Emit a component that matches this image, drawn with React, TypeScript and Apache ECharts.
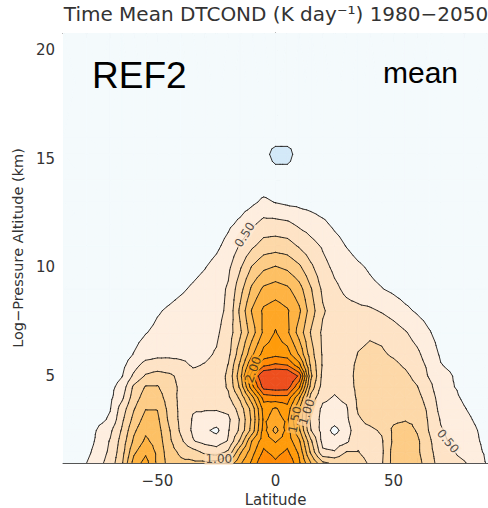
import React, { useEffect, useRef } from 'react';
import * as echarts from 'echarts';

const latitudes = [-90,-80,-70,-65,-60,-55,-50,-45,-40,-35,-30,-25,-20,-15,-10,-5,0,5,10,15,20,25,30,35,40,45,50,55,60,65,70,80,90];
const altitudes = [1,1.5,2,2.5,3,3.5,4,4.5,5,5.5,6,7,8,9,10,11,12,13,14,15.2,16,21];

const alt1_0 = [0.15,0.25,0.6,0.97,1.6,1.85,1.45,1.15,1.05,1.05,1.05,1.1,1.3,1.7,2.05,2.5,2.3,2.5,2.05,1.5,1.05,0.95,1.0,0.9,0.7,0.72,1.1,1.2,1.1,0.85,0.65,0.52,0.22];
const alt1_5 = [0.12,0.18,0.55,0.9,1.45,1.7,1.45,1.1,0.95,0.85,0.7,0.62,0.8,1.45,1.9,2.3,2.15,2.3,1.95,1.2,0.55,0.52,0.76,0.76,0.62,0.7,1.1,1.2,1.05,0.82,0.62,0.42,0.2];
const alt2_0 = [0.1,0.12,0.52,0.85,1.3,1.55,1.4,1.05,0.8,0.52,0.42,0.38,0.52,1.05,1.76,2.15,1.98,2.15,1.8,1.05,0.42,0.36,0.45,0.7,0.65,0.72,1.05,1.15,1.05,0.8,0.55,0.38,0.18];
const alt2_5 = [0.08,0.11,0.45,0.78,1.2,1.45,1.35,1.02,0.7,0.46,0.3,0.19,0.48,0.8,1.35,2.1,1.66,2.1,1.55,0.76,0.4,0.17,0.38,0.68,0.7,0.78,1.05,1.12,0.98,0.74,0.52,0.35,0.17];
const alt3_0 = [0.06,0.1,0.28,0.7,1.08,1.35,1.3,0.95,0.68,0.48,0.42,0.4,0.45,0.77,1.3,2.05,1.9,2.05,1.45,0.68,0.42,0.36,0.45,0.72,0.82,0.9,0.95,0.98,0.95,0.72,0.48,0.3,0.15];
const alt3_5 = [0.05,0.08,0.24,0.62,0.98,1.24,1.24,0.92,0.68,0.52,0.52,0.52,0.56,0.86,1.35,2.1,1.97,2.15,1.52,0.7,0.45,0.42,0.47,0.78,0.88,0.92,0.95,0.95,0.88,0.7,0.42,0.26,0.12];
const alt4_0 = [0.04,0.07,0.2,0.45,0.88,1.12,1.12,0.88,0.68,0.56,0.55,0.58,0.7,1.05,1.65,2.35,2.4,2.4,1.8,0.9,0.55,0.48,0.55,0.8,0.9,0.92,0.92,0.9,0.82,0.65,0.38,0.22,0.1];
const alt4_5 = [0.03,0.06,0.18,0.35,0.8,1.02,1.02,0.85,0.7,0.58,0.58,0.62,0.78,1.3,2.15,2.85,2.9,2.88,2.3,1.15,0.64,0.55,0.62,0.82,0.9,0.9,0.88,0.85,0.76,0.58,0.32,0.2,0.08];
const alt5_0 = [0.03,0.05,0.12,0.24,0.55,0.78,0.85,0.8,0.68,0.56,0.56,0.6,0.8,1.4,2.4,3.05,3.1,3.1,2.7,1.3,0.68,0.6,0.65,0.82,0.88,0.88,0.85,0.8,0.68,0.48,0.33,0.17,0.07];
const alt5_5 = [0.02,0.04,0.1,0.18,0.4,0.6,0.62,0.6,0.55,0.48,0.51,0.56,0.76,1.3,2.0,2.45,2.55,2.5,2.1,1.2,0.72,0.62,0.65,0.8,0.86,0.84,0.8,0.72,0.6,0.45,0.26,0.15,0.06];
const alt6_0 = [0.02,0.03,0.08,0.13,0.26,0.38,0.44,0.45,0.45,0.45,0.46,0.52,0.68,1.15,1.7,2.1,2.18,2.12,1.72,1.1,0.72,0.6,0.62,0.76,0.8,0.78,0.72,0.65,0.55,0.38,0.22,0.12,0.05];
const alt7_0 = [0.01,0.03,0.06,0.1,0.16,0.24,0.3,0.34,0.37,0.39,0.42,0.46,0.62,0.95,1.38,1.8,2.02,1.8,1.4,0.98,0.7,0.6,0.6,0.68,0.72,0.7,0.62,0.52,0.4,0.27,0.16,0.08,0.03];
const alt8_0 = [0.01,0.02,0.04,0.06,0.09,0.15,0.23,0.28,0.33,0.37,0.4,0.42,0.55,1.05,1.52,1.8,1.88,1.78,1.55,1.12,0.78,0.64,0.58,0.56,0.54,0.48,0.4,0.3,0.22,0.15,0.1,0.05,0.02];
const alt9_0 = [0.01,0.02,0.03,0.04,0.06,0.09,0.13,0.17,0.22,0.28,0.34,0.4,0.53,0.9,1.3,1.55,1.62,1.55,1.35,1.02,0.7,0.55,0.45,0.38,0.31,0.26,0.2,0.14,0.1,0.07,0.05,0.02,0.01];
const alt10_0 = [0.01,0.01,0.02,0.03,0.04,0.05,0.07,0.1,0.13,0.18,0.24,0.33,0.45,0.72,1.02,1.2,1.27,1.2,1.05,0.8,0.58,0.45,0.37,0.29,0.22,0.15,0.1,0.07,0.05,0.03,0.02,0.01,0.01];
const alt11_0 = [0.01,0.01,0.02,0.02,0.03,0.03,0.04,0.05,0.07,0.09,0.12,0.2,0.33,0.52,0.7,0.85,0.88,0.85,0.72,0.58,0.47,0.35,0.24,0.15,0.1,0.07,0.05,0.04,0.03,0.02,0.02,0.01,0.01];
const alt12_0 = [0.01,0.01,0.01,0.02,0.02,0.02,0.03,0.03,0.04,0.05,0.07,0.1,0.2,0.3,0.45,0.58,0.58,0.55,0.45,0.38,0.3,0.2,0.13,0.08,0.06,0.04,0.03,0.03,0.02,0.02,0.02,0.01,0.01];
const alt13_0 = [0.01,0.01,0.01,0.01,0.02,0.02,0.02,0.02,0.03,0.03,0.04,0.06,0.09,0.13,0.2,0.3,0.24,0.2,0.18,0.15,0.11,0.08,0.06,0.05,0.04,0.03,0.03,0.02,0.02,0.02,0.02,0.01,0.01];
const alt14_0 = [0.02,0.02,0.03,0.03,0.03,0.04,0.04,0.04,0.05,0.05,0.05,0.06,0.06,0.07,0.08,0.09,0.08,0.08,0.08,0.07,0.07,0.06,0.06,0.05,0.05,0.04,0.04,0.04,0.03,0.03,0.03,0.02,0.02];
const alt15_2 = [0.03,0.03,0.03,0.04,0.04,0.04,0.05,0.05,0.05,0.05,0.05,0.05,0.06,0.06,0.06,0.05,-0.05,-0.05,0.06,0.06,0.06,0.05,0.05,0.05,0.05,0.04,0.04,0.04,0.04,0.03,0.03,0.03,0.03];
const alt16_0 = [0.04,0.04,0.04,0.04,0.04,0.04,0.04,0.04,0.04,0.04,0.04,0.04,0.04,0.05,0.05,0.06,0.06,0.06,0.05,0.05,0.04,0.04,0.04,0.04,0.04,0.04,0.04,0.04,0.04,0.04,0.04,0.04,0.04];
const alt21_0 = [0.02,0.02,0.02,0.02,0.02,0.02,0.02,0.02,0.02,0.02,0.02,0.02,0.02,0.02,0.02,0.02,0.02,0.02,0.02,0.02,0.02,0.02,0.02,0.02,0.02,0.02,0.02,0.02,0.02,0.02,0.02,0.02,0.02];

const dtcond = [alt1_0, alt1_5, alt2_0, alt2_5, alt3_0, alt3_5, alt4_0, alt4_5, alt5_0, alt5_5, alt6_0, alt7_0, alt8_0, alt9_0, alt10_0, alt11_0, alt12_0, alt13_0, alt14_0, alt15_2, alt16_0, alt21_0];

const contourLevels = [0, 0.25, 0.5, 0.75, 1.0, 1.25, 1.5, 1.75, 2.0, 2.25, 2.5, 2.75];
const bandColors = ['#D3E9F8', '#F4FAFC', '#FEEEDF', '#FEE3C6', '#FDD8A8', '#FDCC86', '#FDC064', '#FEB343', '#FFA726', '#FF9B0A', '#FF8A05', '#F97014', '#EE4F1E'];

const contourLabels = [
  { text: '0.50', lat: -13, alt: 11.5, rotate: 58, bg: '#FEE9D3' },
  { text: '0.50', lat: 73, alt: 2.0, rotate: -50, bg: '#FEE9D3' },
  { text: '2.00', lat: -9.5, alt: 5.3, rotate: 70, bg: '#FFA520' },
  { text: '1.50', lat: 8.3, alt: 3.0, rotate: 78, bg: '#FDB850' },
  { text: '1.00', lat: 13.3, alt: 3.35, rotate: 72, bg: '#FDD09A' },
  { text: '1.00', lat: -24, alt: 1.2, rotate: 0, bg: '#FDDDB8' },
];

const xLabelValues = [-50, 0, 50];
const xMinorValues = [-90, -80, -70, -60, -40, -30, -20, -10, 10, 20, 30, 40, 60, 70, 80, 90];
const yLabelValues = [5, 10, 15, 20];
const yMinorValues = [2, 3, 4, 6, 7, 8, 9, 11, 12, 13, 14, 16, 17, 18, 19, 20];

const FONT = "'DejaVu Sans', 'Liberation Sans', sans-serif";

type P = { x: number; y: number; v: number };

function clipPoly(poly: P[], level: number, keepAbove: boolean): P[] {
  const out: P[] = [];
  for (let k = 0; k < poly.length; k++) {
    const a = poly[k];
    const b = poly[(k + 1) % poly.length];
    const ain = keepAbove ? a.v >= level : a.v < level;
    const bin = keepAbove ? b.v >= level : b.v < level;
    if (ain) out.push(a);
    if (ain !== bin) {
      const t = (level - a.v) / (b.v - a.v);
      out.push({ x: a.x + t * (b.x - a.x), y: a.y + t * (b.y - a.y), v: level });
    }
  }
  return out;
}

function cellTriangles(i: number, j: number): P[][] {
  const x0 = latitudes[i], x1 = latitudes[i + 1];
  const y0 = altitudes[j], y1 = altitudes[j + 1];
  const p00 = { x: x0, y: y0, v: dtcond[j][i] };
  const p10 = { x: x1, y: y0, v: dtcond[j][i + 1] };
  const p01 = { x: x0, y: y1, v: dtcond[j + 1][i] };
  const p11 = { x: x1, y: y1, v: dtcond[j + 1][i + 1] };
  const c = { x: (x0 + x1) / 2, y: (y0 + y1) / 2, v: (p00.v + p10.v + p01.v + p11.v) / 4 };
  return [[p00, p10, c], [p10, p11, c], [p11, p01, c], [p01, p00, c]];
}

export default function App() {
  const ref = useRef<HTMLDivElement>(null);
  useEffect(() => {
    const chart = echarts.init(ref.current as HTMLDivElement, null, { renderer: 'svg' });
    const cells: number[][] = [];
    for (let j = 0; j < altitudes.length - 1; j++) {
      for (let i = 0; i < latitudes.length - 1; i++) {
        cells.push([(latitudes[i] + latitudes[i + 1]) / 2, (altitudes[j] + altitudes[j + 1]) / 2, i, j]);
      }
    }
    const edges = [-Infinity, ...contourLevels, Infinity];

    const fillItem = (params: any, api: any) => {
      const i = api.value(2), j = api.value(3);
      const children: any[] = [];
      for (const tri of cellTriangles(i, j)) {
        const vs = tri.map((p) => p.v);
        const vmin = Math.min(...vs), vmax = Math.max(...vs);
        for (let b = 0; b < bandColors.length; b++) {
          const lo = edges[b], hi = edges[b + 1];
          if (vmax < lo || vmin >= hi) continue;
          let poly: P[] = tri;
          if (isFinite(lo)) poly = clipPoly(poly, lo, true);
          if (poly.length >= 3 && isFinite(hi)) poly = clipPoly(poly, hi, false);
          if (poly.length < 3) continue;
          children.push({
            type: 'polygon',
            shape: { points: poly.map((p) => api.coord([p.x, p.y])) },
            style: { fill: bandColors[b], stroke: bandColors[b], lineWidth: 0.8 },
          });
        }
      }
      return { type: 'group', children };
    };

    const lineItem = (params: any, api: any) => {
      const i = api.value(2), j = api.value(3);
      const children: any[] = [];
      for (const tri of cellTriangles(i, j)) {
        for (const L of contourLevels) {
          const pts: number[][] = [];
          for (let k = 0; k < 3; k++) {
            const a = tri[k], b = tri[(k + 1) % 3];
            if ((a.v >= L) !== (b.v >= L)) {
              const t = (L - a.v) / (b.v - a.v);
              pts.push(api.coord([a.x + t * (b.x - a.x), a.y + t * (b.y - a.y)]));
            }
          }
          if (pts.length === 2) {
            children.push({
              type: 'line',
              shape: { x1: pts[0][0], y1: pts[0][1], x2: pts[1][0], y2: pts[1][1] },
              style: { stroke: '#1a1a1a', lineWidth: 0.9, lineCap: 'round' },
            });
          }
        }
      }
      return { type: 'group', children };
    };

    const axisColor = '#555';
    const baseX = { type: 'value', min: -90, max: 90, gridIndex: 0, splitLine: { show: false } };
    const baseY = { type: 'value', min: 1, max: 20.78, gridIndex: 0, splitLine: { show: false } };

    const option: any = {
      animation: false,
      backgroundColor: '#ffffff',
      grid: {
        left: 63, right: 0, top: 33, bottom: 45, show: true, backgroundColor: '#F4FAFC', borderWidth: 0,
        containLabel: false, outerBoundsMode: 'none',
      },
      xAxis: [
        {
          ...baseX, position: 'bottom',
          axisLine: { show: true, lineStyle: { color: axisColor, width: 1 } },
          axisTick: { show: true, inside: true, length: 9, customValues: xLabelValues, lineStyle: { color: axisColor } },
          axisLabel: {
            show: true, customValues: xLabelValues, margin: 10, fontSize: 15, color: '#333', fontFamily: FONT,
            formatter: (v: number) => (v < 0 ? '\u2212' + Math.abs(v) : String(v)),
          },
          name: 'Latitude', nameLocation: 'middle', nameGap: 27,
          nameTextStyle: { fontSize: 15, color: '#333', fontFamily: FONT },
        },
        {
          ...baseX, position: 'bottom',
          axisLine: { show: false },
          axisTick: { show: true, inside: true, length: 5, customValues: xMinorValues, lineStyle: { color: axisColor } },
          axisLabel: { show: false },
        },
        {
          ...baseX, position: 'top',
          axisLine: { show: true, lineStyle: { color: axisColor, width: 1 } },
          axisTick: { show: true, inside: true, length: 9, customValues: xLabelValues, lineStyle: { color: axisColor } },
          axisLabel: { show: false },
        },
        {
          ...baseX, position: 'top',
          axisLine: { show: false },
          axisTick: { show: true, inside: true, length: 5, customValues: xMinorValues, lineStyle: { color: axisColor } },
          axisLabel: { show: false },
        },
      ],
      yAxis: [
        {
          ...baseY, position: 'left',
          axisLine: { show: true, lineStyle: { color: axisColor, width: 1 } },
          axisTick: { show: true, inside: true, length: 9, customValues: yLabelValues, lineStyle: { color: axisColor } },
          axisLabel: { show: true, customValues: yLabelValues, margin: 8, fontSize: 15, color: '#333', fontFamily: FONT },
          name: 'Log\u2212Pressure Altitude (km)', nameLocation: 'middle', nameGap: 38, nameRotate: 90,
          nameTextStyle: { fontSize: 14.5, color: '#333', fontFamily: FONT },
        },
        {
          ...baseY, position: 'left',
          axisLine: { show: false },
          axisTick: { show: true, inside: true, length: 5, customValues: yMinorValues, lineStyle: { color: axisColor } },
          axisLabel: { show: false },
        },
      ],
      graphic: [
        {
          type: 'text', x: 276, y: 14, z: 10,
          style: {
            text: 'Time Mean DTCOND (K day\u207B\u00B9) 1980\u22122050',
            align: 'center', verticalAlign: 'middle',
            fontSize: 20, fontFamily: FONT, fill: '#333',
          },
        },
        {
          type: 'text', x: 92, y: 75, z: 10,
          style: { text: 'REF2', align: 'left', verticalAlign: 'middle', fontSize: 37, fontFamily: "'Liberation Sans', Arial, sans-serif", fill: '#000' },
        },
        {
          type: 'text', x: 458, y: 72, z: 10,
          style: { text: 'mean', align: 'right', verticalAlign: 'middle', fontSize: 30, fontFamily: "'Liberation Sans', Arial, sans-serif", fill: '#000' },
        },
      ],
      series: [
        {
          type: 'custom', name: 'fill', coordinateSystem: 'cartesian2d', xAxisIndex: 0, yAxisIndex: 0,
          data: cells, renderItem: fillItem, clip: true, silent: true, z: 1,
        },
        {
          type: 'custom', name: 'lines', coordinateSystem: 'cartesian2d', xAxisIndex: 0, yAxisIndex: 0,
          data: cells, renderItem: lineItem, clip: true, silent: true, z: 2,
        },
        {
          type: 'scatter', name: 'labels', xAxisIndex: 0, yAxisIndex: 0, symbolSize: 0, silent: true, z: 3,
          data: contourLabels.map((l) => ({
            value: [l.lat, l.alt],
            label: {
              show: true, position: 'inside', formatter: l.text, rotate: l.rotate,
              fontSize: 12, fontFamily: FONT, color: '#222', backgroundColor: l.bg, padding: [0, 1],
            },
          })),
        },
      ],
    };
    chart.setOption(option);
    return () => chart.dispose();
  }, []);
  return <div ref={ref} style={{ position: 'absolute', left: 0, top: 0, width: 488, height: 508 }} />;
}
